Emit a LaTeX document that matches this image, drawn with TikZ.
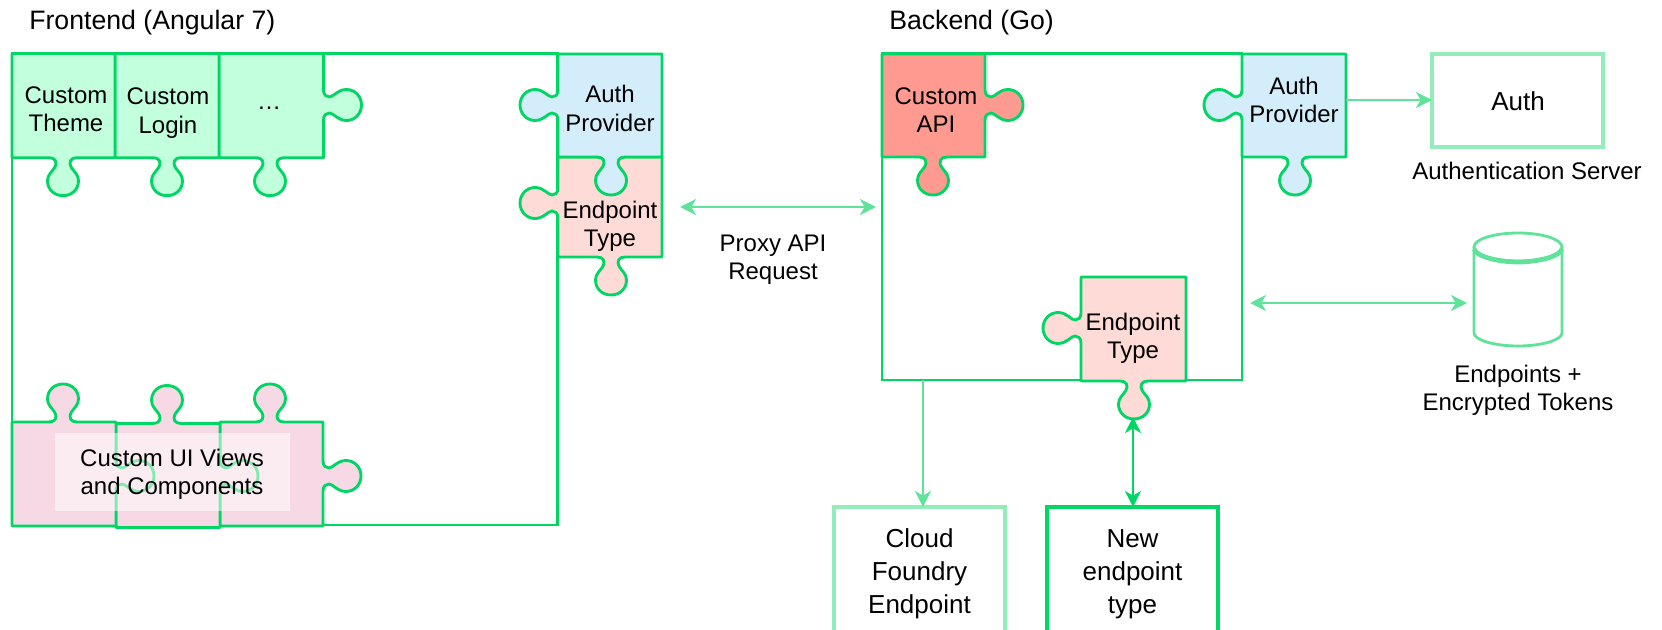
\documentclass[tikz,border=0pt]{standalone}
\usepackage{fontspec}
\setmainfont{Liberation Sans}
\usetikzlibrary{arrows.meta}
\definecolor{gdark}{HTML}{00D664}
\definecolor{gmid}{HTML}{5FE39A}
\definecolor{glight}{HTML}{93EDBA}
\definecolor{pgreen}{HTML}{C2FFDC}
\definecolor{pblue}{HTML}{D3EEFA}
\definecolor{psalmon}{HTML}{FFDBD8}
\definecolor{ppink}{HTML}{F7D9E6}
\definecolor{pred}{HTML}{FF9A91}
% knob travelling right-to-left along a bottom edge
\newcommand{\dk}[2]{-- ({#1+14},#2) .. controls ({#1+8},#2) and ({#1+5},{#2+4}) .. ({#1+8.5},{#2+10}) .. controls ({#1+11},{#2+14}) and ({#1+15.5},{#2+17}) .. ({#1+15.5},{#2+23}) .. controls ({#1+15.5},{#2+32}) and ({#1+8.5},{#2+38}) .. (#1,{#2+38}) .. controls ({#1-8.5},{#2+38}) and ({#1-15.5},{#2+32}) .. ({#1-15.5},{#2+23}) .. controls ({#1-15.5},{#2+17}) and ({#1-11},{#2+14}) .. ({#1-8.5},{#2+10}) .. controls ({#1-5},{#2+4}) and ({#1-8},#2) .. ({#1-14},#2)}
% knob travelling left-to-right along a top edge
\newcommand{\uk}[2]{-- ({#1-14},#2) .. controls ({#1-8},#2) and ({#1-5},{#2-4}) .. ({#1-8.5},{#2-10}) .. controls ({#1-11},{#2-14}) and ({#1-15.5},{#2-17}) .. ({#1-15.5},{#2-23}) .. controls ({#1-15.5},{#2-32}) and ({#1-8.5},{#2-38}) .. (#1,{#2-38}) .. controls ({#1+8.5},{#2-38}) and ({#1+15.5},{#2-32}) .. ({#1+15.5},{#2-23}) .. controls ({#1+15.5},{#2-17}) and ({#1+11},{#2-14}) .. ({#1+8.5},{#2-10}) .. controls ({#1+5},{#2-4}) and ({#1+8},#2) .. ({#1+14},#2)}
% knob travelling top-to-bottom along a right edge
\newcommand{\rk}[2]{-- (#1,{#2-15}) .. controls (#1,{#2-10}) and ({#1+3},{#2-8}) .. ({#1+6},{#2-8}) .. controls ({#1+10},{#2-8}) and ({#1+14},{#2-15.5}) .. ({#1+23},{#2-15.5}) .. controls ({#1+31.5},{#2-15.5}) and ({#1+38},{#2-8.5}) .. ({#1+38},#2) .. controls ({#1+38},{#2+8.5}) and ({#1+31.5},{#2+15.5}) .. ({#1+23},{#2+15.5}) .. controls ({#1+14},{#2+15.5}) and ({#1+10},{#2+8}) .. ({#1+6},{#2+8}) .. controls ({#1+3},{#2+8}) and (#1,{#2+10}) .. (#1,{#2+15})}
% knob travelling bottom-to-top along a left edge
\newcommand{\lk}[2]{-- (#1,{#2+15}) .. controls (#1,{#2+10}) and ({#1-3},{#2+8}) .. ({#1-6},{#2+8}) .. controls ({#1-10},{#2+8}) and ({#1-14},{#2+15.5}) .. ({#1-23},{#2+15.5}) .. controls ({#1-31.5},{#2+15.5}) and ({#1-38},{#2+8.5}) .. ({#1-38},#2) .. controls ({#1-38},{#2-8.5}) and ({#1-31.5},{#2-15.5}) .. ({#1-23},{#2-15.5}) .. controls ({#1-14},{#2-15.5}) and ({#1-10},{#2-8}) .. ({#1-6},{#2-8}) .. controls ({#1-3},{#2-8}) and (#1,{#2-10}) .. (#1,{#2-15})}
\tikzset{
  x=.75pt,y=-.75pt,
  piece/.style={draw=gdark,line width=2.15pt,line join=round,fill=#1},
  lbl/.style={font=\fontsize{18}{21.3}\selectfont,align=center,inner sep=0,text=black},
  ttl/.style={font=\fontsize{20}{24}\selectfont,inner sep=0,text=black},
  biglbl/.style={font=\fontsize{19.5}{24.6}\selectfont,align=center,inner sep=0,text=black},
  framebox/.style={draw=gdark,line width=2.1pt,inner sep=0,outer sep=0,anchor=north west},
  endbox/.style={draw=#1,line width=2.3pt,inner sep=0,outer sep=0,anchor=north west,minimum width=171*.75pt},
  link/.style={draw=gmid,line width=2.05pt,-{Stealth[length=12pt,width=12pt,inset=3.5pt]}},
  dbllink/.style={link,{Stealth[length=12pt,width=12pt,inset=3.5pt]}-{Stealth[length=12pt,width=12pt,inset=3.5pt]}},
}
\begin{document}
\begin{tikzpicture}
\clip (0,0) rectangle (1662,630);
\fill[white] (0,0) rectangle (1662,630);
% titles
\node[ttl,anchor=west] (ttlF) at (29,22.5) {Frontend (Angular 7)};
\node[ttl,anchor=west] (ttlB) at (889,22.5) {Backend (Go)};
% frames
\node[framebox,minimum width=545.5*.75pt,minimum height=471.5*.75pt] (frontend) at (12,53.5) {};
\node[framebox,minimum width=360*.75pt,minimum height=326.5*.75pt] (backend) at (882,53.5) {};
% frontend top row
\draw[piece=pgreen] (219,53.5) -- (323.5,53.5) \rk{323.5}{105} -- (323.5,157.7) \dk{270}{157.7} -- (219,157.7) -- cycle;
\draw[piece=pgreen] (115,53.5) -- (219,53.5) -- (219,157.7) \dk{167}{157.7} -- (115,157.7) -- cycle;
\draw[piece=pgreen] (12,53.5) -- (115,53.5) -- (115,157.7) \dk{63}{157.7} -- (12,157.7) -- cycle;
\node[lbl] (tTheme) at (66,109.5) {Custom\\Theme};
\node[lbl] (tLogin) at (168,113) {Custom\\Login};
\node[lbl] (tMore) at (269,108) {…};
% frontend bottom row
\draw[piece=ppink] (220,422) \uk{270}{422} -- (323,422) \rk{323}{476} -- (323,526) -- (220,526) -- cycle;
\draw[piece=ppink] (116,423.5) \uk{167}{423.5} -- (220,423.5) \rk{220}{476} -- (220,527.5) -- (116,527.5) -- cycle;
\draw[piece=ppink] (12,422) \uk{63}{422} -- (116,422) \rk{116}{476} -- (116,526) -- (12,526) -- cycle;
\node[fill=white,fill opacity=.5,text opacity=1,lbl,minimum width=235*.75pt,minimum height=78*.75pt] (tViews) at (172.5,472) {};
\node[lbl] (tViewsText) at (172,474) {Custom UI Views\\and Components};
% frontend plugin column
\draw[piece=psalmon] (558,157) -- (662,157) -- (662,257) \dk{611}{257} -- (558,257) \lk{558}{203} -- cycle;
\draw[piece=pblue] (558,54) -- (662,54) -- (662,157) \dk{611}{157} -- (558,157) \lk{558}{105} -- cycle;
\node[lbl] (tAuthF) at (610,108.5) {Auth\\Provider};
\node[lbl] (tEpF) at (610,226) {Endpoint\\Type};
% proxy link
\coordinate (proxyA) at (680,207);
\coordinate (proxyB) at (876,207);
\draw[dbllink] (proxyA) -- (proxyB);
\node[lbl] (tProxy) at (773,260) {Proxy API\\Request};
% backend pieces
\draw[piece=pred] (882,54) -- (985,54) \rk{985}{105} -- (985,157) \dk{933}{157} -- (882,157) -- cycle;
\node[lbl] (tApi) at (936,110) {Custom\\API};
\draw[piece=pblue] (1242,54) -- (1346,54) -- (1346,157) \dk{1295}{157} -- (1242,157) \lk{1242}{105} -- cycle;
\node[lbl] (tAuthB) at (1294,100) {Auth\\Provider};
\draw[piece=psalmon] (1081,277) -- (1186,277) -- (1186,381) \dk{1134}{381} -- (1081,381) \lk{1081}{328} -- cycle;
\node[lbl] (tEpB) at (1133,338) {Endpoint\\Type};
% end boxes
\node[endbox=glight,minimum height=93*.75pt] (authbox) at (1432,54) {};
\node[biglbl] (tAuthBox) at (1518,101) {Auth};
\node[lbl] (tAuthSrv) at (1527,171) {Authentication Server};
\node[endbox=glight,biglbl,minimum height=134*.75pt] (cfbox) at (834,507) {Cloud\\Foundry\\Endpoint};
\node[endbox=gdark,biglbl,minimum height=134*.75pt,line width=2.7pt] (newbox) at (1047,507) {New\\endpoint\\type};
% database
\node[inner sep=0,outer sep=0,minimum width=102*.75pt,minimum height=113*.75pt] (db) at (1518,289.5) {};
\draw[draw=gmid,line width=2.1pt,fill=white] (1474,247) -- (1474,333) .. controls (1474,340) and (1494,346) .. (1518,346) .. controls (1542,346) and (1562,340) .. (1562,333) -- (1562,247);
\draw[draw=gmid,line width=2.1pt,fill=white] (1518,247) ellipse [x radius=44,y radius=14];
\draw[draw=gmid,line width=3.5pt] (1474,249) .. controls (1476,256) and (1496,262) .. (1518,262) .. controls (1540,262) and (1560,256) .. (1562,249);
\node[lbl] (tDb) at (1518,390.5) {Endpoints +\\Encrypted Tokens};
% connectors
\coordinate (apOut) at (1346,100);
\draw[link] (apOut) -- (authbox.west |- apOut);
\coordinate (dbFrom) at (1250,303);
\draw[dbllink] (dbFrom) -- (db.west |- dbFrom);
\coordinate (cfIn) at (923,507);
\draw[link] (backend.south -| cfIn) -- (cfIn);
\coordinate (epTip) at (1133,417);
\draw[dbllink,draw=gdark] (epTip) -- (epTip |- newbox.north);
\end{tikzpicture}
\end{document}
